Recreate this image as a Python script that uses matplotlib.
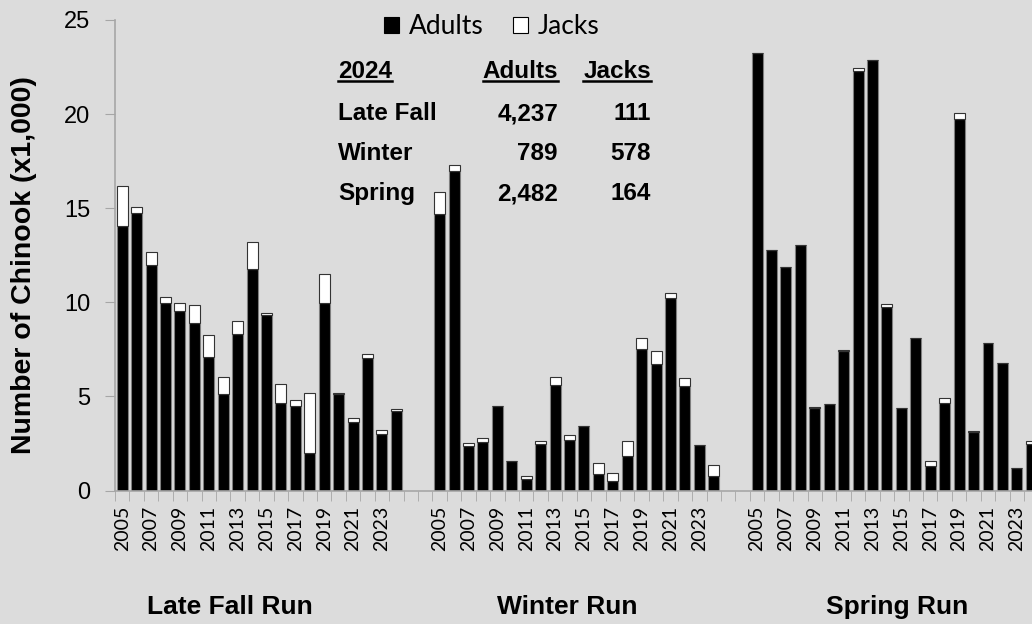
import numpy as np
import matplotlib.pyplot as plt
from matplotlib.lines import Line2D

plt.rcParams['font.family'] = ['Lato', 'DejaVu Sans']
BOLD_FONT = ['Liberation Sans', 'DejaVu Sans']

# Returning Chinook (x1,000), 2005-2024
years = list(range(2005, 2025))
runs = ["Late Fall Run", "Winter Run", "Spring Run"]

late_fall_adults = [14.08, 14.72, 11.97, 9.98, 9.52, 8.88, 7.09, 5.11, 8.33, 11.79,
                    9.33, 4.66, 4.49, 2.00, 9.98, 5.14, 3.63, 7.06, 2.98, 4.237]
late_fall_jacks = [2.11, 0.33, 0.71, 0.30, 0.44, 0.98, 1.17, 0.92, 0.68, 1.42,
                   0.08, 0.98, 0.31, 3.18, 1.51, 0.04, 0.22, 0.17, 0.23, 0.111]

winter_adults = [14.68, 16.97, 2.39, 2.57, 4.50, 1.58, 0.60, 2.48, 5.59, 2.66,
                 3.42, 0.89, 0.48, 1.83, 7.53, 6.74, 10.21, 5.55, 2.43, 0.789]
winter_jacks = [1.17, 0.32, 0.13, 0.20, 0.0, 0.0, 0.18, 0.14, 0.44, 0.30,
                0.0, 0.58, 0.44, 0.79, 0.57, 0.69, 0.29, 0.44, 0.0, 0.578]

spring_adults = [23.26, 12.80, 11.90, 13.05, 4.36, 4.61, 7.41, 22.27, 22.85, 9.73,
                 4.41, 8.09, 1.29, 4.66, 19.73, 3.09, 7.85, 6.79, 1.21, 2.482]
spring_jacks = [0.0, 0.0, 0.0, 0.0, 0.09, 0.0, 0.07, 0.19, 0.0, 0.18,
                0.0, 0.0, 0.29, 0.25, 0.31, 0.08, 0.0, 0.0, 0.0, 0.164]

# 2024 summary table
table_rows = ["Late Fall", "Winter", "Spring"]
table_adults = ["4,237", "789", "2,482"]
table_jacks = ["111", "578", "164"]

bg = '#dcdcdc'
axis_grey = '#a6a6a6'

fig = plt.figure(figsize=(10.32, 6.24), dpi=100, facecolor=bg)
ax = fig.add_axes([115 / 1032, 1 - 490.5 / 624, 917 / 1032, 470.5 / 624])
ax.set_facecolor(bg)

n = len(years)
gap = 2
adults_all = late_fall_adults + winter_adults + spring_adults
jacks_all = late_fall_jacks + winter_jacks + spring_jacks
x = np.concatenate([np.arange(n) + g * (n + gap) for g in range(3)])

width = 0.76
b1 = ax.bar(x, adults_all, width, color='black', edgecolor='#7f7f7f', linewidth=0.8,
            label='Adults', zorder=2)
b2 = ax.bar(x, jacks_all, width, bottom=adults_all, color='white', edgecolor='#333333',
            linewidth=0.8, label='Jacks', zorder=2)

ax.set_xlim(-0.5, 63.05)
ax.set_ylim(0, 25)
ax.set_yticks([0, 5, 10, 15, 20, 25])
ax.tick_params(axis='y', direction='out', length=7, color=axis_grey, pad=11,
               labelsize=17)
for lab in ax.get_yticklabels():
    lab.set_family(['Liberation Sans', 'DejaVu Sans'])

label_idx = np.concatenate([np.arange(0, n, 2) + g * (n + gap) for g in range(3)])
ax.set_xticks(label_idx)
ax.set_xticklabels([str(years[i % (n + gap)]) for i in label_idx], rotation=90,
                   fontsize=14)
ax.tick_params(axis='x', which='major', length=0, pad=11)
ax.set_xticks(np.arange(-0.5, 63.0, 1.0), minor=True)
ax.tick_params(axis='x', which='minor', direction='out', length=7, color=axis_grey)

for s in ['top', 'right']:
    ax.spines[s].set_visible(False)
for s in ['left', 'bottom']:
    ax.spines[s].set_color(axis_grey)
    ax.spines[s].set_linewidth(1.2)

fig.text(24 / 1032, 1 - 265 / 624, "Number of Chinook (x1,000)", rotation=90,
         ha='center', va='center', fontsize=20.5, fontweight='bold', family=BOLD_FONT)

for name, cx in zip(runs, [230, 567, 897]):
    fig.text(cx / 1032, 1 - 607 / 624, name, ha='center', va='center',
             fontsize=19, fontweight='bold', family=BOLD_FONT)

leg = fig.legend([b1, b2], ['Adults', 'Jacks'], loc='center',
                 bbox_to_anchor=(492 / 1032, 1 - 27 / 624), ncol=2, frameon=False,
                 fontsize=19, handlelength=0.55, handleheight=0.55,
                 handletextpad=0.4, columnspacing=1.1)
leg.legend_handles[0].set_edgecolor('black')
leg.legend_handles[1].set_edgecolor('black')

# summary table
def ftext(px, py, s, ha):
    return fig.text(px / 1032, 1 - py / 624, s, ha=ha, va='baseline',
                    fontsize=17.5, fontweight='bold', family=BOLD_FONT)

headers = [ftext(338, 78, "2024", 'left'), ftext(558, 78, "Adults", 'right'),
           ftext(651, 78, "Jacks", 'right')]
for i, (r, a, j) in enumerate(zip(table_rows, table_adults, table_jacks)):
    py = [120, 160, 200][i]
    ftext(338, py, r, 'left')
    ftext(558, py, a, 'right')
    ftext(651, py, j, 'right')

fig.canvas.draw()
r = fig.canvas.get_renderer()
for t in headers:
    bb = t.get_window_extent(r).transformed(fig.transFigure.inverted())
    yy = 1 - 81 / 624
    fig.add_artist(Line2D([bb.x0, bb.x1], [yy, yy], color='black', linewidth=1.8,
                          transform=fig.transFigure))

fig.savefig('out.png', dpi=100, facecolor=bg)
